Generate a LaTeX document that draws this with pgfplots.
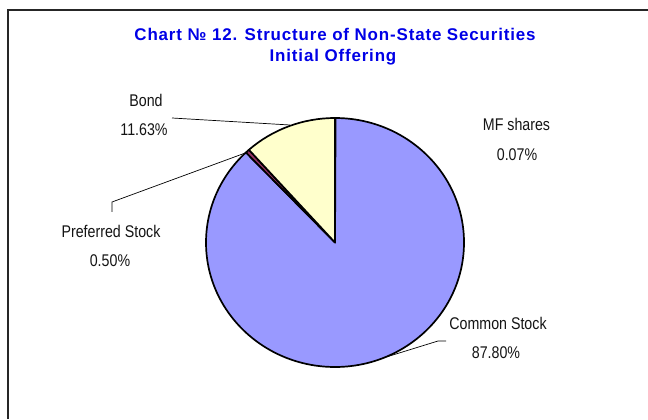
\documentclass[border=0pt]{standalone}
\usepackage{pgfplots}
\pgfplotsset{compat=1.18}
\usepackage{pgfplotstable}
\usepackage{fontspec}
\setmainfont{Liberation Sans}
\newfontfamily\labelfont[FakeStretch=0.84]{Liberation Sans}
\newfontfamily\titlefont[LetterSpace=5]{Liberation Sans}
\definecolor{common}{RGB}{153,153,255}
\definecolor{bond}{RGB}{255,255,204}
\definecolor{pref}{RGB}{153,51,102}
\definecolor{mf}{RGB}{204,255,255}
\definecolor{ttl}{RGB}{0,0,230}
\definecolor{lbl}{RGB}{20,20,20}

\pgfplotstableread{
label value color
MF 0.07 mf
Common 87.80 common
Preferred 0.50 pref
Bond 11.63 bond
}\piedata

\begin{document}
\begin{tikzpicture}[x=1bp,y=1bp]
\useasboundingbox (0,0) rectangle (648,419);
\begin{axis}[at={(0,0)}, anchor=south west, scale only axis,
  width=648bp, height=419bp, xmin=0, xmax=648, ymin=0, ymax=419,
  hide axis, clip=false]
\xdef\cum{0}
\foreach \i in {0,...,3}{
  \pgfplotstablegetelem{\i}{value}\of\piedata \let\sv\pgfplotsretval
  \pgfplotstablegetelem{\i}{color}\of\piedata \let\scol\pgfplotsretval
  \pgfmathsetmacro\sa{90-3.6*\cum}
  \pgfmathsetmacro\sb{90-3.6*(\cum+\sv)}
  \pgfmathsetmacro\newcum{\cum+\sv}
  \xdef\cum{\newcum}
  \edef\temp{\noexpand\filldraw[fill=\scol, draw=black, line width=1.7bp, line join=round] (axis cs:335,176.5) -- ++(\sa:129bp and 124.5bp) arc[start angle=\sa, end angle=\sb, x radius=129bp, y radius=124.5bp] -- cycle;}
  \temp
}
% leader lines
\addplot[black, line width=0.7bp, mark=none] coordinates {(172,301) (290,294)};
\addplot[black, line width=0.7bp, mark=none] coordinates {(112,207) (112,217) (248,267)};
\addplot[black, line width=0.7bp, mark=none] coordinates {(446,78) (438,78) (383,61)};
% labels
\tikzset{lab/.style={anchor=base, text=lbl, inner sep=0pt, font=\labelfont\fontsize{17}{17}\selectfont}}
\node[lab] at (axis cs:146,312) {Bond};
\node[lab] at (axis cs:144,283) {11.63\%};
\node[lab] at (axis cs:111,182) {Preferred Stock};
\node[lab] at (axis cs:110,153) {0.50\%};
\node[lab] at (axis cs:516.5,288) {MF shares};
\node[lab] at (axis cs:517,258) {0.07\%};
\node[lab] at (axis cs:498,90) {Common Stock};
\node[lab] at (axis cs:496,61) {87.80\%};
% title
\tikzset{ttlst/.style={anchor=base, text=ttl, inner sep=0pt, font=\titlefont\bfseries\fontsize{17}{17}\selectfont}}
\node[ttlst] at (axis cs:335,378) {Chart № 12. Structure of Non-State Securities};
\node[ttlst] at (axis cs:333,357) {Initial Offering};
% frame
\draw[line width=1.6bp, black!85] (axis cs:7.8,0) -- (axis cs:7.8,409.2) -- (axis cs:648,409.2);
\end{axis}
\end{tikzpicture}
\end{document}
